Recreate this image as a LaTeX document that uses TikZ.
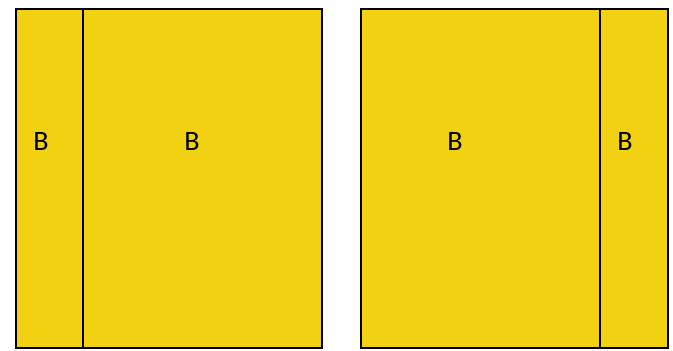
\documentclass[tikz,border=0pt]{standalone}
\usepackage{fontspec}
\setmainfont{Carlito}
\usetikzlibrary{positioning}
\definecolor{blockyellow}{RGB}{242,208,18}
\tikzset{
  part/.style={draw=black, line width=2pt, fill=blockyellow, inner sep=0pt, anchor=north west},
  lbl/.style={font=\fontsize{24}{26}\selectfont, inner sep=0pt},
}

\begin{document}
\begin{tikzpicture}[x=0.03cm, y=-0.03cm]
  \useasboundingbox (0,0) rectangle (673,350);
  % left square
  \node[part, minimum width=67*0.03cm, minimum height=339*0.03cm] (la) at (15,8) {};
  \node[part, minimum width=239*0.03cm, minimum height=339*0.03cm] (lb) at (82,8) {};
  % right square
  \node[part, minimum width=239*0.03cm, minimum height=339*0.03cm] (ra) at (360,8) {};
  \node[part, minimum width=68*0.03cm, minimum height=339*0.03cm] (rb) at (599,8) {};

  \node[lbl] (tla) at (41,141) {B};
  \node[lbl] (tlb) at (192,141) {B};
  \node[lbl] (tra) at (455,141) {B};
  \node[lbl] (trb) at (625,141) {B};
\end{tikzpicture}
\end{document}
